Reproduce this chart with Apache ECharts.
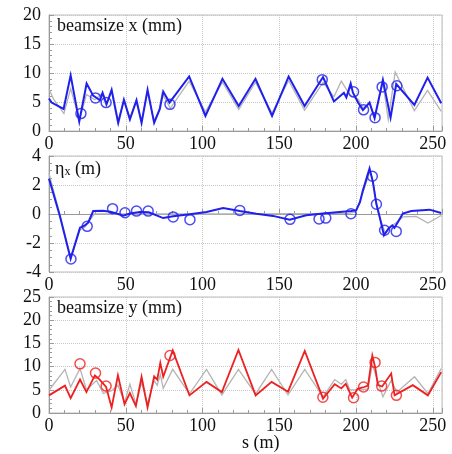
<!DOCTYPE html>
<html>
<head>
<meta charset="utf-8">
<script src="https://cdn.jsdelivr.net/npm/echarts@6/dist/echarts.min.js"></script>
<style>
  html, body { margin: 0; padding: 0; background: #fff; }
  #chart { width: 452px; height: 454px; }
</style>
</head>
<body>
<div id="chart"></div>
<script>
// Horizontal beam size, dispersion and vertical beam size along the line, s in metres.
// Each series is a list of [s, value] pairs.

// beamsize x (mm)
const beamXDesign = [[0,7.2],[3,5.5],[9.7,3.0],[14.1,7.3],[19.8,2.0],[24.4,6.3],[29.9,5.4],[34.3,6.4],[37.2,4.4],[40.8,6.8],[44.7,1.6],[48.8,5.2],[52.7,2.2],[56.6,5.1],[60.3,1.7],[64.2,6.8],[68.3,1.7],[71.8,3.6],[73.7,6.5],[79,3.9],[91.3,8.6],[101.9,3.3],[113,8.4],[123.6,3.7],[134.5,8.4],[145.3,3.1],[156.1,8.7],[166.5,3.6],[178.5,8.4],[185.6,5.9],[190.4,8.6],[196.5,6.0],[201.3,5.5],[204.5,4.0],[208.8,4.8],[212.1,2.6],[217.5,8.3],[221,2.0],[225.5,10.2],[238,3.5],[246.6,7.0],[255.5,3.4]];
const beamXFit = [[0,5.6],[1.7,4.9],[9.5,3.8],[14.1,9.6],[19.7,1.6],[24.5,8.2],[28.8,6.1],[33.2,5.3],[34.9,6.6],[37.5,4.6],[40.8,7.1],[45.1,1.4],[48.8,5.4],[52.7,2.0],[57,5.3],[60.3,1.4],[64.2,7.1],[68.5,1.4],[72.2,3.8],[74.4,6.8],[78.5,4.9],[91.3,9.4],[101.9,2.6],[113,9.0],[123.6,4.3],[134.5,9.0],[145.3,2.6],[156.1,9.4],[166.5,4.3],[178.5,9.3],[185.6,5.1],[192.1,6.6],[193.7,5.8],[196.5,8.2],[198,6.6],[201.3,4.9],[204.5,3.6],[208.8,4.9],[212.1,2.2],[217.5,8.8],[222.5,2.3],[226.2,8.1],[238,4.5],[246.6,9.2],[255.5,4.8]];
const beamXMeasured = [[20.8,3.0],[30.3,5.7],[37.2,4.9],[78.8,4.6],[178,8.85],[198.4,6.75],[204.9,3.65],[212.4,2.3],[217,7.6],[226.6,7.8]];

// eta_x (m)
const etaXDesign = [[0,2.8],[7,0.0],[14.1,-3.0],[20.2,-1.1],[23.4,-0.9],[29.5,0],[60,0],[120,0],[195,0.05],[200,0.15],[204.5,1.5],[209.3,3.0],[211.5,2.0],[213.5,0.5],[216,-0.4],[219,-1.3],[223,-0.85],[226,-0.6],[230.5,-0.2],[239.2,-0.16],[246.8,-0.62],[255.5,-0.1]];
const etaXFit = [[0,2.44],[7,-0.1],[14.1,-3.08],[20.2,-0.94],[23.4,-0.78],[25.5,-0.6],[28.8,0.2],[35,0.22],[40,0.15],[45,0.0],[48.4,-0.12],[52.7,0.03],[59.2,0.14],[65,0.12],[74.4,-0.28],[80.9,-0.16],[91.7,-0.02],[102.6,0.14],[113.4,0.41],[124.3,0.2],[135.1,0.02],[145.9,-0.13],[156.8,-0.39],[167.6,-0.09],[178.5,0.03],[189.3,0.14],[196.9,0.2],[200.1,0.26],[202.5,0.8],[204.5,1.63],[208.8,3.13],[211,2.2],[213.2,0.72],[215.4,-0.2],[218.2,-1.47],[221.2,-1.0],[223.6,-0.78],[225,-0.95],[227.3,-0.55],[230.5,0.03],[236,0.2],[247.9,0.3],[255.5,0.07]];
const etaXMeasured = [[14.3,-3.1],[24.9,-0.85],[41.4,0.37],[49.5,0.09],[57,0.2],[64.6,0.2],[80.9,-0.2],[91.8,-0.39],[124.3,0.25],[157,-0.37],[175.9,-0.34],[180.3,-0.28],[196.7,0.02],[210.6,2.6],[213.3,0.67],[218.6,-1.12],[226.2,-1.2]];

// beamsize y (mm)
const beamYDesign = [[0,4.9],[10.4,9.4],[14.1,5.6],[20.2,9.6],[24.4,5.0],[31,7.0],[35.4,4.2],[40.8,4.8],[44.9,6.0],[49.2,2.3],[52.7,6.2],[56.6,2.0],[60.3,6.5],[64.2,2.0],[68.5,7.0],[70.5,6.0],[72.5,8.3],[74.4,5.3],[80.6,9.4],[91.5,4.1],[102.6,9.4],[112.6,3.9],[123.4,9.4],[134.6,4.1],[145,9.4],[155.7,3.9],[166.6,9.4],[178.5,3.5],[186.1,7.2],[190.4,6.2],[193.3,7.2],[196,5.0],[203.3,5.0],[207.8,5.2],[210.6,10.5],[217.5,3.5],[222.9,7.0],[226.6,4.5],[238.1,7.8],[246.8,4.2],[255.5,9.6]];
const beamYFit = [[0,3.8],[10.4,5.9],[14.1,3.2],[20.2,7.2],[24.4,4.5],[29.9,8.1],[33,7.2],[37.2,5.6],[40.8,1.2],[44.9,8.1],[49.2,1.9],[52.7,4.3],[56.6,1.5],[60.3,7.8],[64.2,1.2],[68.5,7.9],[70.5,7.2],[72.5,10.8],[74.4,7.8],[80.6,13.5],[91.5,3.8],[102.6,6.7],[112.6,4.5],[123.4,13.6],[134.6,3.8],[145,6.7],[155.7,4.6],[166.6,13.4],[178.5,3.1],[186.1,6.2],[190.4,5.3],[193.3,6.3],[197.5,3.3],[201,5.2],[204.5,5.5],[207.8,5.9],[210.6,12.4],[212.5,9.8],[214.2,6.0],[217,5.7],[222.9,8.5],[225.1,3.8],[237,6.0],[246.8,3.8],[255.5,8.8]];
const beamYMeasured = [[20.2,10.6],[30.3,8.6],[37.2,5.8],[78.8,12.4],[178.4,3.4],[198.4,3.3],[204.9,5.6],[212.4,10.9],[216.7,5.8],[226.3,3.8]];

// axis ranges and tick steps
const sRange = { min: 0, max: 256, interval: 50 };
const yRanges = [
  { min: 0, max: 20, interval: 5, minor: 5 },
  { min: -4, max: 4, interval: 2, minor: 4 },
  { min: 0, max: 25, interval: 5, minor: 5 }
];
const panelTitles = ['beamsize x (mm)', '{a|η}{s|x}{a| (m)}', 'beamsize y (mm)'];

const FONT = 'Liberation Serif';
const BLUE = '#1f1fee';
const RED = '#ee2020';
const GREY = '#b4b4b4';

const gridTops = [15, 156, 297];
const grids = gridTops.map(t => ({
  left: 49, top: t, width: 393, height: 116,
  show: true, borderColor: '#bdbdbd', borderWidth: 1, backgroundColor: '#fff'
}));

const xAxes = gridTops.map((t, i) => ({
  type: 'value', gridIndex: i,
  min: sRange.min, max: sRange.max, interval: sRange.interval,
  axisLine: { show: true, lineStyle: { color: '#9a9a9a', width: 1 } },
  axisTick: { show: true, inside: true, length: 5, lineStyle: { color: '#9a9a9a' } },
  minorTick: { show: true, splitNumber: 5, length: 3, lineStyle: { color: '#9a9a9a' } },
  splitLine: { show: true, lineStyle: { color: '#c8c8c8', type: 'dotted', width: 1 } },
  axisLabel: { fontFamily: FONT, fontSize: 18, color: '#111', margin: 4,
    showMaxLabel: false }
}));

const yAxes = yRanges.map((r, i) => ({
  type: 'value', gridIndex: i,
  min: r.min, max: r.max, interval: r.interval,
  axisLine: { show: true, lineStyle: { color: '#9a9a9a', width: 1 } },
  axisTick: { show: true, inside: true, length: 5, lineStyle: { color: '#9a9a9a' } },
  minorTick: { show: true, splitNumber: r.minor, length: 3, lineStyle: { color: '#9a9a9a' } },
  splitLine: { show: true, lineStyle: { color: '#c8c8c8', type: 'dotted', width: 1 } },
  axisLabel: { fontFamily: FONT, fontSize: 18, color: '#111', margin: 8 }
}));

function line(data, i, color, width, z) {
  return { type: 'line', xAxisIndex: i, yAxisIndex: i, data, showSymbol: false,
    symbol: 'none', animation: false, z,
    lineStyle: { color, width, join: 'miter' } };
}
function marks(data, i, color) {
  return { type: 'scatter', xAxisIndex: i, yAxisIndex: i, data, symbol: 'circle',
    symbolSize: 10, animation: false, z: 5,
    itemStyle: { color: 'rgba(0,0,0,0)', borderColor: color, borderWidth: 1.5 } };
}

const titles = [
  { text: panelTitles[0], left: 57, top: 17 },
  { text: panelTitles[1], left: 55, top: 158 },
  { text: panelTitles[2], left: 57, top: 299 }
].map(t => ({
  text: t.text, left: t.left, top: t.top, padding: 0,
  textStyle: {
    fontFamily: FONT, fontSize: 18, fontWeight: 'normal', color: '#111',
    rich: {
      a: { fontFamily: FONT, fontSize: 18, color: '#111', lineHeight: 20, verticalAlign: 'bottom' },
      s: { fontFamily: FONT, fontSize: 12, color: '#111', lineHeight: 20, verticalAlign: 'bottom', padding: [8, 0, 0, 0] }
    }
  }
}));

const chart = echarts.init(document.getElementById('chart'), null, { renderer: 'canvas' });
chart.setOption({
  animation: false,
  backgroundColor: '#fff',
  title: titles,
  grid: grids,
  xAxis: xAxes,
  yAxis: yAxes,
  graphic: [{
    type: 'text', left: 242, top: 434,
    style: { text: 's (m)', fontFamily: FONT, fontSize: 18, fill: '#111' }
  }],
  series: [
    line(beamXDesign, 0, GREY, 1.3, 2),
    line(beamXFit, 0, BLUE, 2, 3),
    marks(beamXMeasured, 0, BLUE),
    line(etaXDesign, 1, GREY, 1.3, 2),
    line(etaXFit, 1, BLUE, 2, 3),
    marks(etaXMeasured, 1, BLUE),
    line(beamYDesign, 2, GREY, 1.3, 2),
    line(beamYFit, 2, RED, 1.8, 3),
    marks(beamYMeasured, 2, RED)
  ]
});
</script>
</body>
</html>
